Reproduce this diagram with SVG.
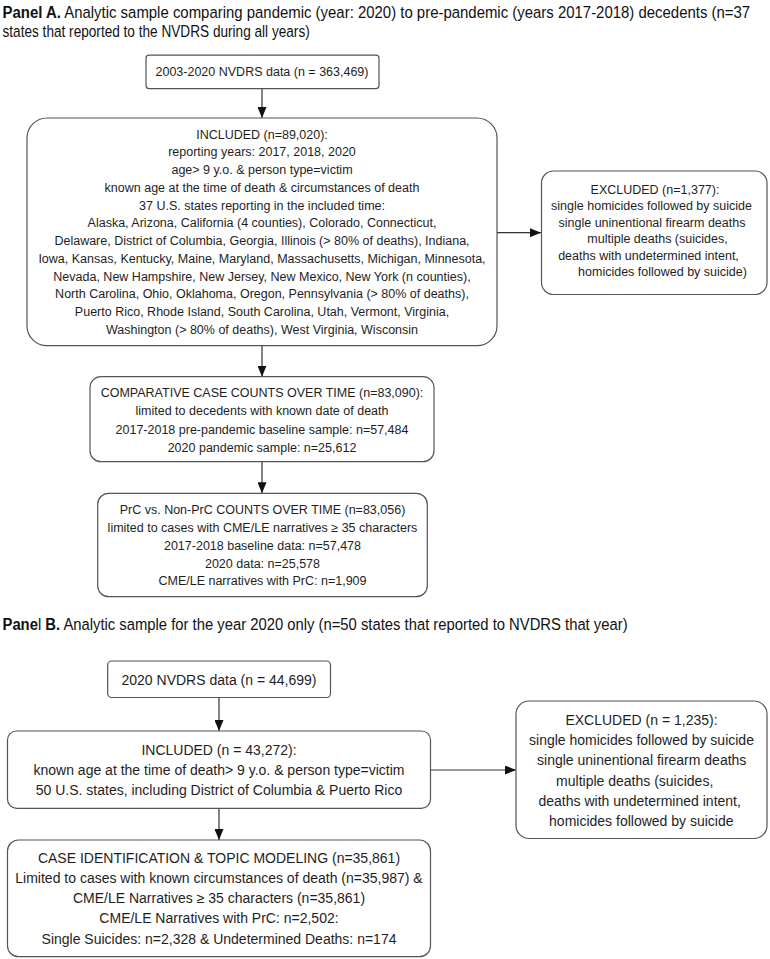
<svg xmlns="http://www.w3.org/2000/svg" width="770" height="959" viewBox="0 0 770 959">
<style>
  .box{fill:#fff;stroke:#555;stroke-width:1.2}
  .a{font-family:"Liberation Sans",Arial,sans-serif;font-size:12.5px;fill:#1e1e1e;text-anchor:middle}
  .b{font-family:"Liberation Sans",Arial,sans-serif;font-size:14px;fill:#1e1e1e;text-anchor:middle}
  .h{font-family:"Liberation Sans",Arial,sans-serif;font-size:16.6px;fill:#111}
  .bold{font-weight:bold}
  .con{stroke:#333;stroke-width:1.2;fill:none;marker-end:url(#arr)}
</style>
<defs>
  <marker id="arr" markerUnits="userSpaceOnUse" markerWidth="11" markerHeight="9" refX="11" refY="4.5" orient="auto">
    <path d="M0,0 L11,4.5 L0,9 Z" fill="#111"/>
  </marker>
</defs>
<rect width="770" height="959" fill="#fff"/>

<g id="headerA">
  <text class="h" transform="translate(2.5,18) scale(0.9,1)"><tspan class="bold">Panel A.</tspan> Analytic sample comparing pandemic (year: 2020) to pre-pandemic (years 2017-2018) decedents (n=37</text>
  <text class="h" transform="translate(2.5,37) scale(0.821,1)">states that reported to the NVDRS during all years)</text>
</g>

<g id="connectors">
  <line class="con" x1="262" y1="88.6" x2="262" y2="118"/>
  <line class="con" x1="497" y1="232.7" x2="541" y2="232.7"/>
  <line class="con" x1="262" y1="345.7" x2="262" y2="376.7"/>
  <line class="con" x1="262" y1="461.7" x2="262" y2="493.3"/>
  <line class="con" x1="219" y1="697.5" x2="219" y2="731"/>
  <line class="con" x1="430.5" y1="770" x2="516" y2="770"/>
  <line class="con" x1="219" y1="808.3" x2="219" y2="840"/>
</g>

<g id="nvdrsA">
  <rect class="box" x="146" y="55.2" width="233" height="33.4" rx="3"/>
  <text class="a" x="262" y="76.2">2003-2020 NVDRS data (n = 363,469)</text>
</g>

<g id="includedA">
  <rect class="box" x="27" y="118" width="470" height="227.7" rx="20"/>
  <text class="a" x="262" y="138.7">INCLUDED (n=89,020):</text>
  <text class="a" x="262" y="156.45">reporting years: 2017, 2018, 2020</text>
  <text class="a" x="262" y="174.2">age&gt; 9 y.o. &amp; person type=victim</text>
  <text class="a" x="262" y="191.95">known age at the time of death &amp; circumstances of death</text>
  <text class="a" x="262" y="209.7">37 U.S. states reporting in the included time:</text>
  <text class="a" x="262" y="227.45">Alaska, Arizona, California (4 counties), Colorado, Connecticut,</text>
  <text class="a" x="262" y="245.2">Delaware, District of Columbia, Georgia, Illinois (&gt; 80% of deaths), Indiana,</text>
  <text class="a" x="262" y="262.95">Iowa, Kansas, Kentucky, Maine, Maryland, Massachusetts, Michigan, Minnesota,</text>
  <text class="a" x="262" y="280.7">Nevada, New Hampshire, New Jersey, New Mexico, New York (n counties),</text>
  <text class="a" x="262" y="298.45">North Carolina, Ohio, Oklahoma, Oregon, Pennsylvania (&gt; 80% of deaths),</text>
  <text class="a" x="262" y="316.2">Puerto Rico, Rhode Island, South Carolina, Utah, Vermont, Virginia,</text>
  <text class="a" x="262" y="333.95">Washington (&gt; 80% of deaths), West Virginia, Wisconsin</text>
</g>

<g id="excludedA">
  <rect class="box" x="541.5" y="171" width="225.5" height="123.5" rx="12"/>
  <text class="a" x="655" y="193.5">EXCLUDED (n=1,377):</text>
  <text class="a" x="651.5" y="210">single homicides followed by suicide</text>
  <text class="a" x="652" y="226.5">single uninentional firearm deaths</text>
  <text class="a" x="657.5" y="243">multiple deaths (suicides,</text>
  <text class="a" x="648.5" y="259.5">deaths with undetermined intent,</text>
  <text class="a" x="662.5" y="276">homicides followed by suicide)</text>
</g>

<g id="comparative">
  <rect class="box" x="90" y="376.7" width="344" height="85" rx="11"/>
  <text class="a" x="262" y="397">COMPARATIVE CASE COUNTS OVER TIME (n=83,090):</text>
  <text class="a" x="262" y="415.3">limited to decedents with known date of death</text>
  <text class="a" x="262" y="433.6">2017-2018 pre-pandemic baseline sample: n=57,484</text>
  <text class="a" x="262" y="452">2020 pandemic sample: n=25,612</text>
</g>

<g id="prc">
  <rect class="box" x="97.7" y="493.3" width="329.6" height="103.4" rx="11"/>
  <text class="a" x="262.5" y="514.4">PrC vs. Non-PrC COUNTS OVER TIME (n=83,056)</text>
  <text class="a" x="262.5" y="532.1">limited to cases with CME/LE narratives ≥ 35 characters</text>
  <text class="a" x="262.5" y="549.8">2017-2018 baseline data: n=57,478</text>
  <text class="a" x="262.5" y="567.5">2020 data: n=25,578</text>
  <text class="a" x="262.5" y="585.2">CME/LE narratives with PrC: n=1,909</text>
</g>

<g id="headerB">
  <text class="h" transform="translate(2.5,630) scale(0.893,1)"><tspan class="bold">Pane</tspan>l <tspan class="bold">B.</tspan> Analytic sample for the year 2020 only (n=50 states that reported to NVDRS that year)</text>
</g>

<g id="nvdrsB">
  <rect class="box" x="107.7" y="661" width="222.8" height="36.5" rx="4"/>
  <text class="b" x="219" y="685">2020 NVDRS data (n = 44,699)</text>
</g>

<g id="includedB">
  <rect class="box" x="7.5" y="731" width="423" height="77.3" rx="9"/>
  <text class="b" x="219" y="754.5">INCLUDED (n = 43,272):</text>
  <text class="b" x="219" y="774.7">known age at the time of death&gt; 9 y.o. &amp; person type=victim</text>
  <text class="b" x="219" y="794.9">50 U.S. states, including District of Columbia &amp; Puerto Rico</text>
</g>

<g id="excludedB">
  <rect class="box" x="516" y="701" width="251" height="137.5" rx="13"/>
  <text class="b" x="641.5" y="725">EXCLUDED (n = 1,235):</text>
  <text class="b" x="641.5" y="745.2">single homicides followed by suicide</text>
  <text class="b" x="641.7" y="765.4">single uninentional firearm deaths</text>
  <text class="b" x="634.7" y="785.6">multiple deaths (suicides,</text>
  <text class="b" x="639.7" y="805.8">deaths with undetermined intent,</text>
  <text class="b" x="641.3" y="826">homicides followed by suicide</text>
</g>

<g id="caseid">
  <rect class="box" x="7.5" y="840" width="423" height="116.7" rx="11"/>
  <text class="b" x="219" y="862.8">CASE IDENTIFICATION &amp; TOPIC MODELING (n=35,861)</text>
  <text class="b" x="219" y="883">Limited to cases with known circumstances of death (n=35,987) &amp;</text>
  <text class="b" x="219" y="903.2">CME/LE Narratives ≥ 35 characters (n=35,861)</text>
  <text class="b" x="219" y="923.4">CME/LE Narratives with PrC: n=2,502:</text>
  <text class="b" x="219" y="943.6">Single Suicides: n=2,328 &amp; Undetermined Deaths: n=174</text>
</g>
</svg>
